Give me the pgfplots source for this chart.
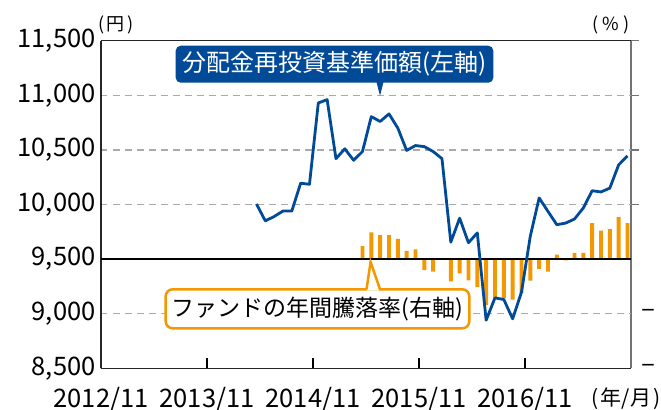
\documentclass[border=0pt]{standalone}
\usepackage{fontspec}
\setmainfont{Noto Sans CJK JP}
\usepackage{pgfplots}
\usepackage{pgfplotstable}
\pgfplotsset{compat=1.18}
\definecolor{navblue}{HTML}{004A98}
\definecolor{fundorange}{HTML}{F39800}
\definecolor{gridgray}{HTML}{AAAAAA}

\pgfplotstableread{
x nav
18 10005
19 9850
20 9890
21 9940
22 9940
23 10195
24 10185
25 10930
26 10960
27 10420
28 10510
29 10405
30 10485
31 10805
32 10760
33 10830
34 10700
35 10495
36 10540
37 10530
38 10485
39 10420
40 9655
41 9875
42 9650
43 9740
44 8940
45 9145
46 9130
47 8953
48 9197
49 9710
50 10060
51 9937
52 9815
53 9830
54 9867
55 9968
56 10126
57 10115
58 10150
59 10363
60 10445
}\navtable

\pgfplotstableread{
x ret
30 2.4
31 4.9
32 4.4
33 4.4
34 3.7
35 1.5
36 1.8
37 -2.0
38 -2.3
39 0.0
40 -4.1
41 -2.6
42 -3.9
43 -5.1
44 -8.4
45 -7.2
46 -7.2
47 -7.4
48 -6.2
49 -3.95
50 -1.8
51 -2.3
52 0.8
53 -0.25
54 1.15
55 1.15
56 6.6
57 5.2
58 5.5
59 7.7
60 6.6
}\rettable

\begin{document}
\begin{tikzpicture}[x=1bp,y=1bp]
\path[use as bounding box] (-101,-40.7) rectangle (560,368.3);
% right axis: annual return bars
\begin{axis}[
  at={(0,0)}, anchor=south west,
  scale only axis, width=530bp, height=327.6bp,
  xmin=0.4, xmax=60.4, ymin=-20, ymax=40,
  axis x line=none, axis y line*=right,
  y axis line style={draw=black!55, line width=1.4bp},
  ytick={10,20,30,40}, yticklabels={},
  tick align=outside, major tick length=8bp,
  ytick style={draw=black!55, line width=1.2bp},
  extra y ticks={-10,-20}, extra y tick labels={–,–},
  extra y tick style={major tick length=0pt},
  yticklabel style={font=\fontsize{26bp}{30bp}\selectfont, anchor=west, xshift=7bp},
]
\addplot[ybar, bar width=3.9bp, fill=fundorange, draw=none] table[x=x,y=ret]{\rettable};
\end{axis}
% left axis: NAV line
\begin{axis}[
  at={(0,0)}, anchor=south west,
  scale only axis, width=530bp, height=327.6bp,
  xmin=0.4, xmax=60.4, ymin=8500, ymax=11500,
  scaled y ticks=false,
  axis x line*=box, axis y line*=left,
  axis line style={draw=black!85, line width=1.3bp},
  xtick={0.4,12.4,24.4,36.4,48.4},
  xticklabels={2012/11,2013/11,2014/11,2015/11,2016/11},
  xtick pos=left, tick align=inside, major tick length=10bp,
  xtick style={draw=black, line width=1.2bp},
  ytick={8500,9000,10000,10500,11000,11500},
  ytick style={draw=none},
  extra y ticks={9500},
  extra y tick style={major tick length=0pt, grid style={black, solid, line width=1.3bp}},
  ymajorgrids,
  grid style={gridgray, dash pattern=on 6.5bp off 5.5bp, line width=1.2bp},
  /pgf/number format/1000 sep={,},
  /pgf/number format/assume math mode=true,
  tick label style={font=\fontsize{25.5bp}{29bp}\selectfont},
  yticklabel style={anchor=east, xshift=-2bp},
  xticklabel style={anchor=north, yshift=-15bp},
]
\addplot[navblue, line width=2.8bp, line join=round] table[x=x,y=nav]{\navtable};
\end{axis}
% unit labels
\node[font=\fontsize{18bp}{22bp}\selectfont] at (14.8,343.3) {(\hspace{0.15em}円\hspace{0.15em})};
\node[font=\fontsize{18bp}{22bp}\selectfont] at (510,343.3) {(\hspace{0.22em}\%\hspace{0.22em})};
\node[font=\fontsize{21bp}{25bp}\selectfont] at (525,-30.7) {(\hspace{0.1em}年/月\hspace{0.1em})};
% blue callout
\fill[navblue, rounded corners=5bp] (74.7,285.6) rectangle (392.3,322.6);
\fill[navblue] (275.5,286.2) -- (279,272.6) -- (282.5,286.2) -- cycle;
\node[text=white, font=\fontsize{24bp}{28bp}\selectfont] at (233.5,304.1) {分配金再投資基準価額(左軸)};
% orange callout
\draw[fundorange, line width=2.5bp, fill=white, rounded corners=7bp] (64.7,40) rectangle (368.3,79);
\fill[white] (265.8,77.6) -- (269.6,104) -- (278.2,77.6) -- cycle;
\draw[fundorange, line width=2.5bp, line join=miter] (265.5,79) -- (269.6,106.3) -- (279,79);
\node[text=black, font=\fontsize{23bp}{27bp}\selectfont] at (216.5,59.5) {ファンドの年間騰落率(右軸)};
\end{tikzpicture}
\end{document}
